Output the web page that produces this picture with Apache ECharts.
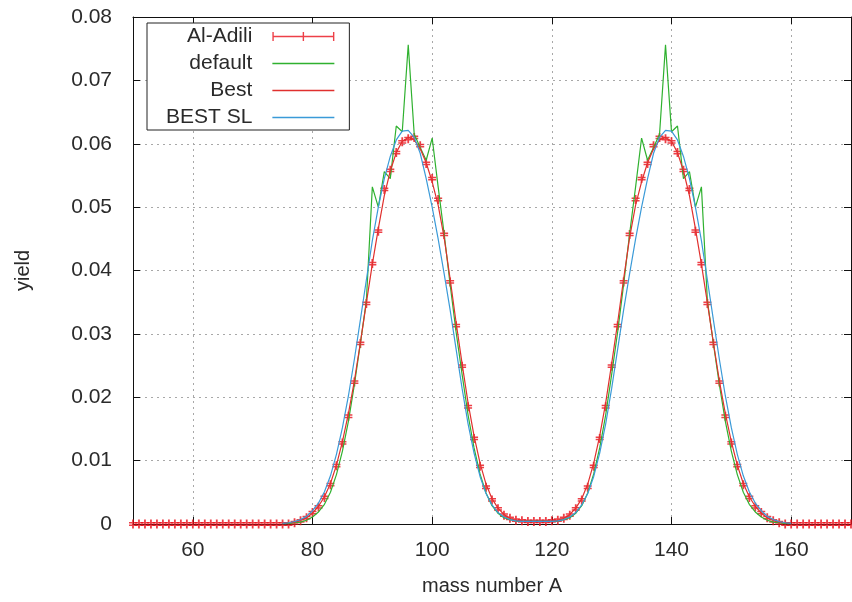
<!DOCTYPE html>
<html>
<head>
<meta charset="utf-8">
<title>yield</title>
<script src="https://cdn.jsdelivr.net/npm/echarts@6/dist/echarts.min.js"></script>
<style>
  body { margin: 0; background: #fff; }
  #chart { width: 852px; height: 602px; }
</style>
</head>
<body>
<div id="chart"></div>
<script>
// mass numbers A
var massNumbers = [
  50, 51, 52, 53, 54, 55, 56, 57, 58, 59,
  60, 61, 62, 63, 64, 65, 66, 67, 68, 69,
  70, 71, 72, 73, 74, 75, 76, 77, 78, 79,
  80, 81, 82, 83, 84, 85, 86, 87, 88, 89,
  90, 91, 92, 93, 94, 95, 96, 97, 98, 99,
  100, 101, 102, 103, 104, 105, 106, 107, 108, 109,
  110, 111, 112, 113, 114, 115, 116, 117, 118, 119,
  120, 121, 122, 123, 124, 125, 126, 127, 128, 129,
  130, 131, 132, 133, 134, 135, 136, 137, 138, 139,
  140, 141, 142, 143, 144, 145, 146, 147, 148, 149,
  150, 151, 152, 153, 154, 155, 156, 157, 158, 159,
  160, 161, 162, 163, 164, 165, 166, 167, 168, 169,
  170
];

// Al-Adili (error bar points)
var alAdili = [
  0, 0, 0, 0, 0, 0, 0, 0, 0, 0,
  0, 0, 0, 0, 0, 0, 0, 0, 0, 0,
  0, 0, 0, 0, 0, 0, 0, 0.0002, 0.0005, 0.0010,
  0.0018, 0.0027, 0.0042, 0.0062, 0.0092, 0.0128, 0.0170, 0.0224, 0.0285, 0.0348,
  0.0411, 0.0462, 0.0528, 0.0558, 0.0586, 0.0603, 0.0608, 0.0610, 0.0597, 0.0569,
  0.0545, 0.0512, 0.0457, 0.0382, 0.0313, 0.0249, 0.0185, 0.0135, 0.0091, 0.0058,
  0.0038, 0.0024, 0.0014, 0.0009, 0.0006, 0.0005, 0.0004, 0.0004, 0.0004, 0.0004,
  0.0005, 0.0006, 0.0009, 0.0014, 0.0024, 0.0038, 0.0058, 0.0091, 0.0135, 0.0185,
  0.0249, 0.0313, 0.0382, 0.0457, 0.0512, 0.0545, 0.0569, 0.0597, 0.0610, 0.0608,
  0.0603, 0.0586, 0.0558, 0.0528, 0.0462, 0.0411, 0.0348, 0.0285, 0.0224, 0.0170,
  0.0128, 0.0092, 0.0062, 0.0042, 0.0027, 0.0018, 0.0010, 0.0005, 0.0002, 0,
  0, 0, 0, 0, 0, 0, 0, 0, 0, 0,
  0
];

// default
var defaultYield = [
  null, null, null, null, null, null, null, null, null, null,
  null, null, null, null, null, null, null, null, null, null,
  null, null, null, null, null, 0.0000, 0.0001, 0.0002, 0.0003, 0.0006,
  0.0011, 0.0019, 0.0031, 0.0050, 0.0078, 0.0115, 0.0162, 0.0220, 0.0285, 0.0352,
  0.0532, 0.0500, 0.0556, 0.0545, 0.0628, 0.0619, 0.0756, 0.0615, 0.0594, 0.0574,
  0.0609, 0.0532, 0.0458, 0.0378, 0.0303, 0.0236, 0.0172, 0.0120, 0.0079, 0.0049,
  0.0029, 0.0017, 0.0010, 0.0007, 0.0005, 0.0004, 0.0004, 0.0004, 0.0004, 0.0004,
  0.0004, 0.0005, 0.0007, 0.0010, 0.0017, 0.0029, 0.0049, 0.0079, 0.0120, 0.0172,
  0.0236, 0.0303, 0.0378, 0.0458, 0.0532, 0.0609, 0.0574, 0.0594, 0.0615, 0.0756,
  0.0619, 0.0628, 0.0545, 0.0556, 0.0500, 0.0532, 0.0352, 0.0285, 0.0220, 0.0162,
  0.0115, 0.0078, 0.0050, 0.0031, 0.0019, 0.0011, 0.0006, 0.0003, 0.0002, 0.0001,
  0.0000, null, null, null, null, null, null, null, null, null,
  null
];

// Best
var bestYield = [
  null, null, null, null, null, null, null, null, null, null,
  null, null, null, null, null, null, null, null, null, null,
  null, null, null, null, null, 0.0001, 0.0002, 0.0003, 0.0006, 0.0010,
  0.0017, 0.0028, 0.0043, 0.0064, 0.0093, 0.0130, 0.0174, 0.0226, 0.0286, 0.0349,
  0.0410, 0.0466, 0.0518, 0.0557, 0.0586, 0.0604, 0.0610, 0.0606, 0.0592, 0.0570,
  0.0540, 0.0503, 0.0452, 0.0387, 0.0318, 0.0253, 0.0191, 0.0139, 0.0096, 0.0063,
  0.0040, 0.0025, 0.0015, 0.0009, 0.0006, 0.0005, 0.0004, 0.0004, 0.0004, 0.0004,
  0.0005, 0.0006, 0.0009, 0.0015, 0.0025, 0.0040, 0.0063, 0.0096, 0.0139, 0.0191,
  0.0253, 0.0318, 0.0387, 0.0452, 0.0503, 0.0540, 0.0570, 0.0592, 0.0606, 0.0610,
  0.0604, 0.0586, 0.0557, 0.0518, 0.0466, 0.0410, 0.0349, 0.0286, 0.0226, 0.0174,
  0.0130, 0.0093, 0.0064, 0.0043, 0.0028, 0.0017, 0.0010, 0.0006, 0.0003, 0.0002,
  0.0001, null, null, null, null, null, null, null, null, null,
  null
];

// BEST SL
var bestSlYield = [
  null, null, null, null, null, null, null, null, null, null,
  null, null, null, null, null, null, null, null, null, null,
  null, null, null, null, null, 0.0001, 0.0002, 0.0004, 0.0007, 0.0012,
  0.0021, 0.0033, 0.0051, 0.0076, 0.0110, 0.0152, 0.0202, 0.0260, 0.0322, 0.0385,
  0.0447, 0.0500, 0.0545, 0.0580, 0.0606, 0.0620, 0.0621, 0.0610, 0.0585, 0.0545,
  0.0500, 0.0450, 0.0395, 0.0338, 0.0276, 0.0214, 0.0158, 0.0112, 0.0075, 0.0048,
  0.0030, 0.0018, 0.0011, 0.0007, 0.0005, 0.0004, 0.0004, 0.0004, 0.0004, 0.0004,
  0.0004, 0.0005, 0.0007, 0.0011, 0.0018, 0.0030, 0.0048, 0.0075, 0.0112, 0.0158,
  0.0214, 0.0276, 0.0338, 0.0395, 0.0450, 0.0500, 0.0545, 0.0585, 0.0610, 0.0621,
  0.0620, 0.0606, 0.0580, 0.0545, 0.0500, 0.0447, 0.0385, 0.0322, 0.0260, 0.0202,
  0.0152, 0.0110, 0.0076, 0.0051, 0.0033, 0.0021, 0.0012, 0.0007, 0.0004, 0.0002,
  0.0001, null, null, null, null, null, null, null, null, null,
  null
];

var seriesNames = ['Al-Adili', 'default', 'Best', 'BEST SL'];

function pairs(vals) {
  return massNumbers.map(function (a, i) { return [a, vals[i]]; });
}

var fontFamily = '"Liberation Sans", Arial, sans-serif';
var textColor = '#2a2a2a';
var lineIcon = 'path://M0,0h62v1.3h-62z';

// gnuplot style frame: ticks pointing inwards on all four sides
var frameAxis = {
  axisLine: { show: true, onZero: false, lineStyle: { color: '#111', width: 1 } },
  axisTick: { show: true, inside: true, length: 7, lineStyle: { color: '#111' } },
  axisLabel: { show: false },
  splitLine: { show: false }
};

var myChart = echarts.init(document.getElementById('chart'));

var option = {
  animation: false,
  backgroundColor: '#fff',
  grid: { left: 133, right: 1, top: 17, bottom: 78 },
  legend: {
    orient: 'vertical',
    left: 147,
    top: 23,
    align: 'right',
    padding: [3, 15, 2, 19],
    itemGap: 6,
    itemWidth: 62,
    itemHeight: 9,
    backgroundColor: '#fff',
    borderColor: '#222',
    borderWidth: 1,
    borderRadius: 0,
    textStyle: {
      fontFamily: fontFamily, fontSize: 21, color: textColor,
      lineHeight: 21, padding: [0, 15, 0, 0]
    },
    data: [
      { name: 'Al-Adili', icon: 'path://M0,0h1.4v9h-1.4z M0,3.8h62v1.4h-62z M30.3,0h1.4v9h-1.4z M60.6,0h1.4v9h-1.4z' },
      { name: 'default', icon: lineIcon },
      { name: 'Best', icon: lineIcon },
      { name: 'BEST SL', icon: lineIcon }
    ]
  },
  xAxis: [
    {
      type: 'value',
      min: 50,
      max: 170,
      splitNumber: 6,
      position: 'bottom',
      name: 'mass number A',
      nameLocation: 'middle',
      nameGap: 52,
      nameTextStyle: { fontFamily: fontFamily, fontSize: 20, color: textColor },
      axisLine: { show: true, onZero: false, lineStyle: { color: '#111', width: 1 } },
      axisTick: { show: true, inside: true, length: 7, lineStyle: { color: '#111' } },
      axisLabel: {
        margin: 16, fontFamily: fontFamily, fontSize: 21, color: textColor,
        showMinLabel: false, showMaxLabel: false
      },
      splitLine: { show: true, lineStyle: { color: '#a8a8a8', type: [2, 4], width: 1 } }
    },
    Object.assign({ type: 'value', min: 50, max: 170, splitNumber: 6, position: 'top' }, frameAxis)
  ],
  yAxis: [
    {
      type: 'value',
      min: 0,
      max: 0.08,
      interval: 0.01,
      position: 'left',
      name: 'yield',
      nameLocation: 'middle',
      nameGap: 100,
      nameTextStyle: { fontFamily: fontFamily, fontSize: 20, color: textColor },
      axisLine: { show: true, onZero: false, lineStyle: { color: '#111', width: 1 } },
      axisTick: { show: true, inside: true, length: 7, lineStyle: { color: '#111' } },
      axisLabel: { margin: 21, fontFamily: fontFamily, fontSize: 21, color: textColor },
      splitLine: { show: true, lineStyle: { color: '#a8a8a8', type: [2, 4], width: 1 } }
    },
    Object.assign({ type: 'value', min: 0, max: 0.08, interval: 0.01, position: 'right' }, frameAxis)
  ],
  series: [
    {
      name: seriesNames[0],
      type: 'scatter',
      data: pairs(alAdili),
      symbol: 'path://M3.1,0h1.8v9h-1.8z M0,2.6h8v1.5h-8z M0,4.9h8v1.5h-8z',
      symbolSize: [8, 9],
      itemStyle: { color: '#e8101a' },
      z: 3
    },
    {
      name: seriesNames[1],
      type: 'line',
      data: pairs(defaultYield),
      symbol: 'none',
      lineStyle: { color: '#2fb12f', width: 1.2 },
      itemStyle: { color: '#2fb12f' },
      z: 4
    },
    {
      name: seriesNames[2],
      type: 'line',
      data: pairs(bestYield),
      symbol: 'none',
      lineStyle: { color: '#e0302e', width: 1.2 },
      itemStyle: { color: '#e0302e' },
      z: 5
    },
    {
      name: seriesNames[3],
      type: 'line',
      data: pairs(bestSlYield),
      symbol: 'none',
      lineStyle: { color: '#3a9ad8', width: 1.2 },
      itemStyle: { color: '#3a9ad8' },
      z: 6
    }
  ]
};

myChart.setOption(option);
</script>
</body>
</html>
